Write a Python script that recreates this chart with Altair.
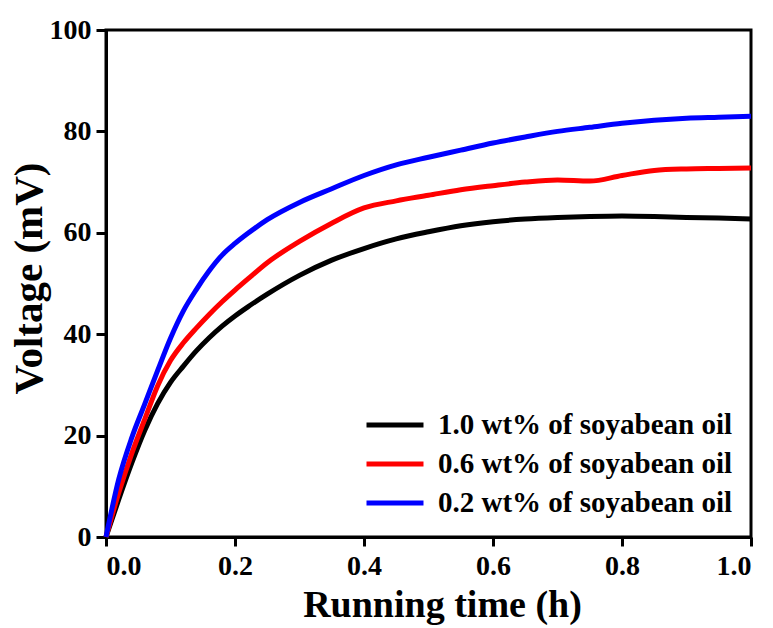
import altair as alt
import pandas as pd

# Running time (h)
time_h = [0.00, 0.02, 0.04, 0.06, 0.08, 0.10, 0.12, 0.14, 0.16, 0.18, 0.20,
          0.22, 0.25, 0.30, 0.35, 0.40, 0.45, 0.50, 0.55, 0.60, 0.65, 0.70,
          0.75, 0.80, 0.85, 0.90, 0.95, 1.00]

# Voltage (mV) for each soyabean oil content
v_10 = [0.0, 7.5, 14.6, 21.0, 26.3, 30.5, 33.7, 36.7, 39.3, 41.6, 43.6,
        45.4, 47.9, 51.6, 54.6, 56.9, 58.8, 60.2, 61.4, 62.2, 62.7, 63.0,
        63.2, 63.3, 63.2, 63.0, 62.9, 62.7]
v_06 = [0.0, 8.8, 16.5, 23.2, 29.8, 34.8, 38.3, 41.2, 43.9, 46.4, 48.7,
        50.9, 54.1, 58.3, 61.9, 64.9, 66.3, 67.4, 68.5, 69.3, 70.0, 70.4,
        70.2, 71.3, 72.3, 72.6, 72.7, 72.8]
v_02 = [0.0, 11.5, 19.6, 26.2, 32.8, 39.2, 44.6, 48.8, 52.5, 55.6, 57.9,
        59.9, 62.6, 66.0, 68.7, 71.3, 73.4, 74.9, 76.3, 77.7, 78.9, 80.0,
        80.8, 81.6, 82.2, 82.6, 82.8, 83.0]

series = ["1.0 wt% of soyabean oil", "0.6 wt% of soyabean oil", "0.2 wt% of soyabean oil"]
colors = ["#000000", "#ff0000", "#0000ff"]

rows = []
for name, vals in zip(series, [v_10, v_06, v_02]):
    for t, v in zip(time_h, vals):
        rows.append({"time": t, "voltage": v, "sample": name})
df = pd.DataFrame(rows)

FONT = "Liberation Serif"

# A wide horizontal dash as the legend key: the path spans twice the symbol cell,
# so rows stay compact while the line segment is long.
LEGEND_DASH = "M-2,0H2"

chart = alt.Chart(df).mark_line(strokeWidth=5, interpolate="monotone").encode(
    x=alt.X("time:Q", scale=alt.Scale(domain=[0, 1], nice=False),
            axis=alt.Axis(title="Running time (h)", values=[0, 0.2, 0.4, 0.6, 0.8, 1.0],
                          format=".1f", tickSize=9, labelPadding=6,
                          titleX=336, titleY=79, titleBaseline="alphabetic",
                          titleAlign="center")),
    y=alt.Y("voltage:Q", scale=alt.Scale(domain=[0, 100], nice=False),
            axis=alt.Axis(title="Voltage (mV)", values=[0, 20, 40, 60, 80, 100],
                          format="d", tickSize=10, labelPadding=5,
                          titleX=-65, titleY=248, titleAngle=270, titleFontSize=41,
                          titleBaseline="alphabetic", titleAlign="center")),
    color=alt.Color("sample:N",
                    scale=alt.Scale(domain=series, range=colors),
                    sort=series,
                    legend=alt.Legend(title=None, orient="none", legendX=272, legendY=378,
                                      symbolType=LEGEND_DASH, symbolSize=812,
                                      symbolStrokeWidth=5, labelFontSize=29,
                                      labelFont=FONT, labelFontWeight="bold",
                                      labelColor="#000000", labelOffset=26,
                                      labelLimit=0, rowPadding=7, padding=0)),
).properties(
    width=645,
    height=507,
    autosize=alt.AutoSizeParams(type="none"),
    padding={"left": 106, "top": 30, "right": 22, "bottom": 91},
).configure_view(
    stroke="#000000", strokeWidth=3
).configure_axis(
    grid=False,
    domainColor="#000000", domainWidth=3,
    tickColor="#000000", tickWidth=3,
    labelFont=FONT, labelFontSize=28, labelFontWeight="bold", labelColor="#000000",
    titleFont=FONT, titleFontSize=38, titleFontWeight="bold", titleColor="#000000",
)

chart.save("out.html", embed_options={"renderer": "svg", "actions": False})
